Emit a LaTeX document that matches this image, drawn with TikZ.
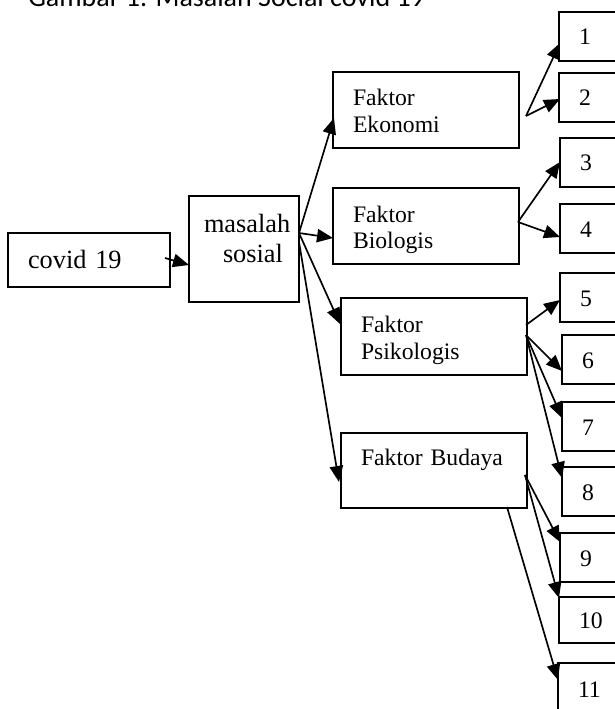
\documentclass[tikz,border=0pt]{standalone}
\usepackage{fontspec}
\setmainfont{Liberation Serif}
\newfontfamily\titlefont{Carlito}
\usetikzlibrary{arrows.meta,calc}

\begin{document}
\begin{tikzpicture}[x=0.75pt,y=-0.75pt,
  box/.style={draw, line width=1.4pt, anchor=north west, outer sep=0pt,
    inner ysep=0pt, align=left},
  bigtext/.style={font=\fontsize{19.75}{22.5}\selectfont},
  smalltext/.style={font=\fontsize{17.75}{20.25}\selectfont},
  factorbox/.style={box, smalltext, inner xsep=15pt, text width=109.5pt},
  numbox/.style={box, smalltext, inner xsep=15pt, text width=45pt,
    text height=24.75pt, text depth=12pt},
  link/.style={line width=1.25pt, -{Triangle[length=12pt,width=10pt]}}]

\useasboundingbox (0,0) rectangle (614,709);

% caption
\node[anchor=base west, inner sep=0pt, font=\titlefont\fontsize{21}{25}\selectfont]
  (title) at (28,7) {Gambar 1. Masalah Social covid 19};

% source and central problem
\node[box, bigtext, inner xsep=15pt, text width=91.5pt,
  text height=26.25pt, text depth=14.25pt] (covid) at (8,233) {covid 19};
\node[box, bigtext, inner xsep=3.75pt, text width=75pt,
  text height=27pt, text depth=52.5pt] (masalah) at (189,196)
  {\hspace*{7.5pt}masalah\\\hspace*{21.75pt}sosial};

% factors
\node[factorbox, text height=25.5pt, text depth=31.5pt]  (eko) at (333,72)  {Faktor\\Ekonomi};
\node[factorbox, text height=25.5pt, text depth=31.5pt]  (bio) at (333,188) {Faktor\\Biologis};
\node[factorbox, text height=25.5pt, text depth=32.25pt] (psi) at (341,298) {Faktor\\Psikologis};
\node[factorbox, text height=24pt,   text depth=32.25pt] (bud) at (341,433) {Faktor Budaya};

% numbered items
\node[numbox] (n1) at (559,12)  {1};
\node[numbox] (n2) at (559,73)  {2};
\node[numbox] (n3) at (560,138) {3};
\node[numbox] (n4) at (560,204) {4};
\node[numbox] (n5) at (560,273) {5};
\node[numbox] (n6) at (562,335) {6};
\node[numbox] (n7) at (562,402) {7};
\node[numbox] (n8) at (562,467) {8};
\node[numbox] (n9) at (560,533) {9};
\node[numbox, text height=23.25pt, text depth=11.25pt] (n10) at (559,597) {10};
\node[numbox, text height=25.5pt, text depth=30pt]    (n11) at (558,663) {11};

% fan-out points
\coordinate (covid-out) at ($(covid.north east)+(-5,25)$);
\coordinate (ms-hub)    at ($(masalah.north east)+(0,37)$);
\coordinate (ms-hub2)   at ($(masalah.north east)+(0,46)$);
\coordinate (eko-hub)   at ($(eko.north east)+(7,44)$);
\coordinate (bio-hub)   at ($(bio.north east)+(-1,34)$);
\coordinate (psi-hub1)  at ($(psi.north east)+(-1,27)$);
\coordinate (psi-hub2)  at ($(psi.north east)+(-1,37)$);
\coordinate (bud-hub1)  at ($(bud.north east)+(-2,42)$);
\coordinate (bud-hub2)  at ($(bud.south east)+(-20,-1)$);

% connectors
\draw[link] (covid-out) -- ($(masalah.north west)+(0,69)$);
\draw[link] (ms-hub)  -- ($(eko.north west)+(1,46)$);
\draw[link] (ms-hub)  -- ($(bio.north west)+(0,50)$);
\draw[link] (ms-hub)  -- ($(psi.north west)+(-1,26)$);
\draw[link] (ms-hub2) -- ($(bud.north west)+(-2,49)$);
\draw[link] (eko-hub) -- ($(n1.north west)+(1,31)$);
\draw[link] (eko-hub) -- ($(n2.north west)+(1,26)$);
\draw[link] (bio-hub) -- ($(n3.north west)+(0,24)$);
\draw[link] (bio-hub) -- ($(n4.north west)+(0,33)$);
\draw[link] (psi-hub1) -- ($(n5.north west)+(0,27)$);
\draw[link] (psi-hub2) -- ($(n6.north west)+(0,36)$);
\draw[link] (psi-hub2) -- ($(n7.north west)+(0,16)$);
\draw[link] (psi-hub2) -- ($(n8.north west)+(0,11)$);
\draw[link] (bud-hub1) -- ($(n9.north west)+(0,9)$);
\draw[link] (bud-hub1) -- ($(n10.north west)+(0,1)$);
\draw[link] (bud-hub2) -- ($(n11.north west)+(0,17)$);
\end{tikzpicture}
\end{document}
